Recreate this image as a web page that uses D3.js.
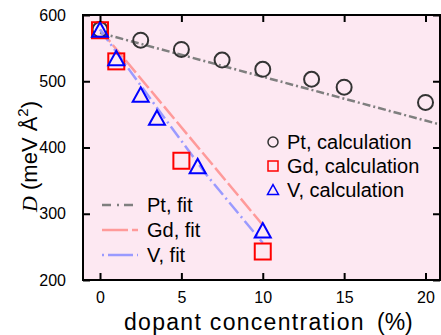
<!DOCTYPE html>
<html>
<head>
<meta charset="utf-8">
<script src="https://cdn.jsdelivr.net/npm/d3@7"></script>
<style>
  body { margin: 0; background: #fff; }
  text { font-family: "Liberation Sans", Arial, Helvetica, sans-serif; fill: #000; }
</style>
</head>
<body>
<svg id="chart" width="441" height="335"></svg>
<script>
// calculated points
var ptX = [0, 2.5, 5, 7.5, 10, 13, 15, 20];
var ptY = [578, 562, 548, 532, 518, 503, 491, 468];
var gdX = [0, 1, 5, 10];
var gdY = [577, 530, 380, 243];
var vX = [0, 1, 2.5, 3.5, 6, 10];
var vY = [577, 534, 479, 444, 371, 274];

// fit curves
var ptFitX = [0, 21];
var ptFitY = [573, 434];
var gdFitX = [0, 10];
var gdFitY = [578, 283];
var vFitX = [0, 3.2, 6.5, 10];
var vFitY = [578, 470, 360, 256];

var xTicks = [0, 5, 10, 15, 20];
var yTicks = [200, 300, 400, 500, 600];

(function () {
  var svg = d3.select("#chart");
  var m = { left: 83, right: 440, top: 15, bottom: 280 };

  var x = d3.scaleLinear().domain([-1.045, 20.89]).range([m.left, m.right]);
  var y = d3.scaleLinear().domain([200, 600]).range([m.bottom, m.top]);

  function zip(xs, ys) { return xs.map(function (d, i) { return [d, ys[i]]; }); }

  svg.append("rect")
    .attr("x", m.left).attr("y", m.top)
    .attr("width", m.right - m.left).attr("height", m.bottom - m.top)
    .attr("fill", "#fde8f2");

  svg.append("clipPath").attr("id", "clip")
    .append("rect")
    .attr("x", m.left).attr("y", m.top)
    .attr("width", m.right - m.left).attr("height", m.bottom - m.top);

  var line = d3.line().x(function (d) { return x(d[0]); }).y(function (d) { return y(d[1]); });

  var plot = svg.append("g").attr("clip-path", "url(#clip)");

  var fits = [
    { data: zip(ptFitX, ptFitY), color: "#7f7f7f", dash: "8,3,2,3" },
    { data: zip(gdFitX, gdFitY), color: "#ff9a9a", dash: "16,4" },
    { data: zip(vFitX, vFitY), color: "#9a9aff", dash: "14,4,2,4" }
  ];

  fits.forEach(function (f) {
    plot.append("path")
      .attr("d", line(f.data))
      .attr("fill", "none")
      .attr("stroke", f.color)
      .attr("stroke-width", 2.5)
      .attr("stroke-dasharray", f.dash);
  });

  // markers
  plot.selectAll(".pt")
    .data(zip(ptX, ptY))
    .enter().append("circle")
    .attr("cx", function (d) { return x(d[0]); })
    .attr("cy", function (d) { return y(d[1]); })
    .attr("r", 7.5)
    .attr("fill", "none")
    .attr("stroke", "#333")
    .attr("stroke-width", 2);

  plot.selectAll(".gd")
    .data(zip(gdX, gdY))
    .enter().append("rect")
    .attr("x", function (d) { return x(d[0]) - 8; })
    .attr("y", function (d) { return y(d[1]) - 8; })
    .attr("width", 16).attr("height", 16)
    .attr("fill", "none")
    .attr("stroke", "#ff0000")
    .attr("stroke-width", 2);

  function tri(cx, cy, s) {
    var h = s * 0.9;
    return "M" + cx + "," + (cy - h * 0.55) + "L" + (cx + s / 2) + "," + (cy + h * 0.45) +
      "L" + (cx - s / 2) + "," + (cy + h * 0.45) + "Z";
  }

  plot.selectAll(".v")
    .data(zip(vX, vY))
    .enter().append("path")
    .attr("d", function (d) { return tri(x(d[0]), y(d[1]), 16); })
    .attr("fill", "none")
    .attr("stroke", "#0000ff")
    .attr("stroke-width", 2);

  // axes with inward ticks, mirrored on top and right
  var tl = 7;
  function style(g) {
    g.select(".domain").remove();
    g.selectAll("line").attr("stroke", "#000").attr("stroke-width", 2);
    g.selectAll("text").attr("font-size", 16).attr("fill", "#000")
      .style("font-family", "Liberation Sans, Arial, sans-serif");
  }
  svg.append("g").attr("transform", "translate(0," + m.bottom + ")")
    .call(d3.axisBottom(x).tickValues(xTicks).tickSizeInner(-tl).tickSizeOuter(0).tickPadding(12))
    .call(style);
  svg.append("g").attr("transform", "translate(0," + m.top + ")")
    .call(d3.axisTop(x).tickValues(xTicks).tickSizeInner(-tl).tickSizeOuter(0).tickFormat(""))
    .call(style);
  svg.append("g").attr("transform", "translate(" + m.left + ",0)")
    .call(d3.axisLeft(y).tickValues(yTicks).tickSizeInner(-tl).tickSizeOuter(0).tickPadding(17))
    .call(style);
  svg.append("g").attr("transform", "translate(" + m.right + ",0)")
    .call(d3.axisRight(y).tickValues(yTicks).tickSizeInner(-tl).tickSizeOuter(0).tickFormat(""))
    .call(style);

  svg.append("rect")
    .attr("x", m.left).attr("y", m.top)
    .attr("width", m.right - m.left).attr("height", m.bottom - m.top)
    .attr("fill", "none").attr("stroke", "#000").attr("stroke-width", 2);

  // axis titles
  svg.append("text")
    .attr("x", 124).attr("y", 330)
    .attr("font-size", 23)
    .style("letter-spacing", "1.3px")
    .text("dopant concentration");
  svg.append("text")
    .attr("x", 377).attr("y", 330)
    .attr("font-size", 23)
    .text("(%)");

  var yt = svg.append("text")
    .attr("transform", "translate(37,212) rotate(-90)")
    .attr("font-size", 22);
  yt.append("tspan").style("font-family", "Liberation Serif, Times New Roman, serif")
    .attr("font-style", "italic").text("D");
  yt.append("tspan").text("  (meV Å");
  yt.append("tspan").attr("font-size", 15).attr("dy", -9).text("2");
  yt.append("tspan").attr("dy", 9).text(")");

  // legend, calculations
  var calcNames = ["Pt, calculation", "Gd, calculation", "V, calculation"];
  var calcY = [142, 166, 190];
  var lg = svg.append("g");
  calcNames.forEach(function (n, i) {
    var cy = calcY[i];
    if (i === 0) {
      lg.append("circle").attr("cx", 273).attr("cy", cy).attr("r", 5)
        .attr("fill", "none").attr("stroke", "#333").attr("stroke-width", 1.5);
    } else if (i === 1) {
      lg.append("rect").attr("x", 268).attr("y", cy - 5).attr("width", 10).attr("height", 10)
        .attr("fill", "none").attr("stroke", "#ff0000").attr("stroke-width", 1.5);
    } else {
      lg.append("path").attr("d", tri(273, cy, 11))
        .attr("fill", "none").attr("stroke", "#0000ff").attr("stroke-width", 1.5);
    }
    lg.append("text").attr("x", 287).attr("y", cy + 7).attr("font-size", 20).text(n);
  });

  // legend, fits
  var fitNames = ["Pt, fit", "Gd, fit", "V, fit"];
  var fitY = [205, 230, 255];
  fitNames.forEach(function (n, i) {
    var cy = fitY[i];
    lg.append("line").attr("x1", 102).attr("x2", 138).attr("y1", cy).attr("y2", cy)
      .attr("stroke", fits[i].color).attr("stroke-width", 2.5)
      .attr("stroke-dasharray", i === 0 ? "9,6,2,5" : (i === 1 ? "26,4" : "2,4,25,4"));
    lg.append("text").attr("x", 147).attr("y", cy + 7).attr("font-size", 20).text(n);
  });
})();
</script>
</body>
</html>
